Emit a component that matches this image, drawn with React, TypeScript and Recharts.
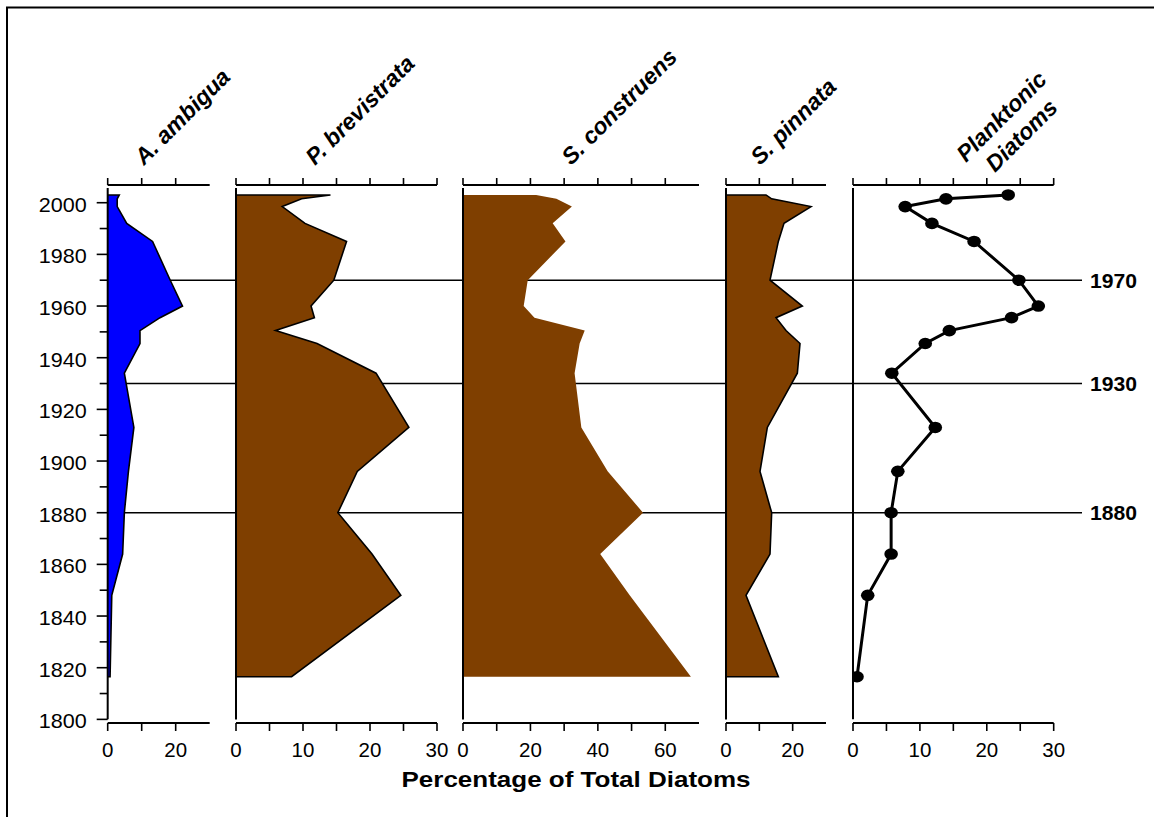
import React from 'react';
import { ComposedChart, Area, Line, XAxis, YAxis, ReferenceLine } from 'recharts';

// ---------- data ----------
const sampleYears = [2003, 2001.5, 1998.5, 1992, 1985, 1970, 1960, 1955.5, 1950.5, 1945.5, 1934, 1913, 1896, 1880, 1864, 1848, 1816.5];
const aAmbigua = [3.4, 2.8, 2.8, 5.6, 13.2, 18.4, 22.0, 15.4, 9.5, 9.5, 4.9, 7.7, 6.1, 4.9, 4.4, 1.2, 0.7];
const pBrevistrata = [14.1, 9.8, 6.9, 10.3, 16.5, 14.6, 11.2, 11.7, 5.9, 12.1, 20.9, 25.8, 18.1, 15.2, 20.3, 24.6, 8.3];
const sConstruens = [21.7, 27.7, 32.3, 26.6, 30.4, 19.2, 18.0, 21.2, 36.1, 34.6, 33.1, 35.1, 42.9, 53.4, 40.7, 49.5, 67.6];
const sPinnata = [12.0, 13.7, 25.5, 17.4, 15.7, 13.2, 22.9, 15.0, 18.0, 22.2, 21.4, 12.4, 10.2, 13.7, 13.2, 6.0, 15.7];
const planktonic = [23.2, 13.9, 7.8, 11.8, 18.1, 24.8, 27.7, 23.7, 14.4, 10.8, 5.8, 12.3, 6.7, 5.7, 5.7, 2.2, 0.6];

const panelTitles = ['A. ambigua', 'P. brevistrata', 'S. construens', 'S. pinnata', ['Planktonic', 'Diatoms']];
const axisTitle = 'Percentage of Total Diatoms';

const yearTicks = [1800, 1810, 1820, 1830, 1840, 1850, 1860, 1870, 1880, 1890, 1900, 1910, 1920, 1930, 1940, 1950, 1960, 1970, 1980, 1990, 2000];
const yearLabels = [1800, 1820, 1840, 1860, 1880, 1900, 1920, 1940, 1960, 1980, 2000];
const markerYears = [1970, 1930, 1880];

const ticksA = [0, 10, 20];
const labelsA = [0, 20];
const ticksP = [0, 5, 10, 15, 20, 25, 30];
const labelsP = [0, 10, 20, 30];
const ticksS = [0, 10, 20, 30, 40, 50, 60];
const labelsS = [0, 20, 40, 60];
const ticksPin = [0, 10, 20];
const labelsPin = [0, 20];
const ticksPl = [0, 5, 10, 15, 20, 25, 30];
const labelsPl = [0, 10, 20, 30];

// ---------- styling / layout ----------
const FONT = '"Liberation Sans", Arial, Helvetica, sans-serif';
const Y_DOMAIN: [number, number] = [1798.6, 2006.85];
const AXIS_SPAN: [number, number] = [1800, 2005.7];
const BLUE = '#0000FF';
const BROWN = '#7F3F00';
const CHART_TOP = 165;
const CHART_H = 608;
const TOP_AXIS_H = 20;
const BOTTOM_AXIS_H = 50;

function buildTable(values: number[], closed: boolean) {
  const rows = sampleYears.map((year, i) => ({ year, value: values[i] }));
  if (!closed) return rows;
  return [
    { year: sampleYears[0], value: 0 },
    ...rows,
    { year: sampleYears[sampleYears.length - 1], value: 0 },
  ];
}

const YTick = (props: any) => {
  const { x, y, payload } = props;
  const major = yearLabels.includes(payload.value);
  return (
    <g>
      <line x1={x - (major ? 11 : 8)} x2={x} y1={y} y2={y} stroke="#000" strokeWidth={1.6} />
      {major && (
        <text x={x - 21} y={y} dy="0.45em" textAnchor="end" fontSize={20} fontFamily={FONT} fill="#000"
          textLength={48} lengthAdjust="spacingAndGlyphs">
          {payload.value}
        </text>
      )}
    </g>
  );
};

const makeBottomTick = (labels: number[]) => (props: any) => {
  const { x, y, payload } = props;
  if (!labels.includes(payload.value)) return <g />;
  return (
    <text x={x} y={y} dy="0.71em" textAnchor="middle" fontSize={20.5} fontFamily={FONT} fill="#000">
      {payload.value}
    </text>
  );
};

const EmptyTick = () => <g />;

const Dot = (props: any) => {
  const { cx, cy, index } = props;
  if (cx == null || cy == null) return <g key={`d-${index}`} />;
  return <ellipse key={`d-${index}`} cx={cx} cy={cy} rx={6.8} ry={5.8} fill="#000" />;
};

const MarkerLabel = (props: any) => {
  const { viewBox, text } = props;
  if (!viewBox) return null;
  const x = viewBox.x + viewBox.width + 8;
  const y = viewBox.y + (viewBox.height || 0) / 2;
  return (
    <text x={x} y={y} dy="0.36em" textAnchor="start" fontSize={20.5} fontWeight="bold" fontFamily={FONT} fill="#000"
      textLength={47} lengthAdjust="spacingAndGlyphs">
      {text}
    </text>
  );
};

type PanelProps = {
  left: number;
  plotWidth: number;
  domain: [number, number];
  ticks: number[];
  labels: number[];
  values: number[];
  kind: 'area' | 'line';
  fill?: string;
  stroke?: string;
  showYAxis?: boolean;
};

function Panel({ left, plotWidth, domain, ticks, labels, values, kind, fill, stroke, showYAxis }: PanelProps) {
  const mL = showYAxis ? 0 : 20;
  const yW = showYAxis ? left : 0;
  const mR = 20;
  const chartLeft = showYAxis ? 0 : left - mL;
  const width = mL + yW + plotWidth + mR;
  const data = buildTable(values, kind === 'area' && !!stroke);
  return (
    <div style={{ position: 'absolute', left: chartLeft, top: CHART_TOP }}>
      <ComposedChart
        layout="vertical"
        width={width}
        height={CHART_H}
        data={data}
        margin={{ top: 0, right: mR, bottom: 0, left: mL }}
      >
        <YAxis
          type="number"
          dataKey="year"
          domain={Y_DOMAIN}
          allowDataOverflow
          reversed
          ticks={yearTicks}
          interval={0}
          hide={!showYAxis}
          width={yW || 1}
          axisLine={false}
          tickLine={false}
          tickSize={0}
          tickMargin={0}
          tick={YTick}
        />
        <XAxis
          xAxisId="top"
          orientation="top"
          type="number"
          domain={domain}
          ticks={ticks}
          interval={0}
          allowDataOverflow
          height={TOP_AXIS_H}
          axisLine={{ stroke: '#000', strokeWidth: 2 }}
          tickLine={{ stroke: '#000', strokeWidth: 1.6 }}
          tickSize={7}
          tick={EmptyTick}
        />
        <XAxis
          xAxisId="bottom"
          orientation="bottom"
          type="number"
          domain={domain}
          ticks={ticks}
          interval={0}
          allowDataOverflow
          height={BOTTOM_AXIS_H}
          axisLine={{ stroke: '#000', strokeWidth: 2 }}
          tickLine={{ stroke: '#000', strokeWidth: 1.6 }}
          tickSize={8}
          tickMargin={11}
          tick={makeBottomTick(labels)}
        />
        <ReferenceLine
          xAxisId="bottom"
          segment={[{ x: 0, y: AXIS_SPAN[0] }, { x: 0, y: AXIS_SPAN[1] }]}
          stroke="#000"
          strokeWidth={2}
          ifOverflow="visible"
        />
        {kind === 'area' ? (
          <Area
            xAxisId="bottom"
            dataKey="value"
            type="linear"
            fill={fill}
            fillOpacity={1}
            stroke={stroke || 'none'}
            strokeWidth={1.6}
            isAnimationActive={false}
            dot={false}
            activeDot={false}
          />
        ) : (
          <Line
            xAxisId="bottom"
            dataKey="value"
            type="linear"
            stroke="#000"
            strokeWidth={3}
            dot={Dot}
            activeDot={false}
            isAnimationActive={false}
          />
        )}
      </ComposedChart>
    </div>
  );
}

function MarkerLines() {
  const left = 107.7;
  const plotWidth = 974;
  const mR = 80;
  return (
    <div style={{ position: 'absolute', left, top: CHART_TOP }}>
      <ComposedChart
        width={plotWidth + mR}
        height={CHART_H}
        data={buildTable(planktonic, false)}
        margin={{ top: TOP_AXIS_H, right: mR, bottom: BOTTOM_AXIS_H, left: 0 }}
      >
        <XAxis type="number" dataKey="value" domain={[0, 1]} allowDataOverflow hide />
        <YAxis type="number" domain={Y_DOMAIN} allowDataOverflow hide />
        {markerYears.map((yr) => (
          <ReferenceLine
            key={yr}
            y={yr}
            stroke="#000"
            strokeWidth={1.5}
            ifOverflow="visible"
            label={<MarkerLabel text={String(yr)} />}
          />
        ))}
      </ComposedChart>
    </div>
  );
}

function Titles() {
  const starts: [number, number][] = [
    [144, 166],
    [315, 166],
    [571, 166],
    [760, 166],
  ];
  const titleStyle = { fontSize: 23, fontWeight: 'bold' as const, fontStyle: 'italic' as const, fontFamily: FONT, fill: '#000' };
  const two = panelTitles[4] as string[];
  return (
    <svg width={1154} height={817} style={{ position: 'absolute', left: 0, top: 0, pointerEvents: 'none' }}>
      <rect x={7} y={7.5} width={1400} height={1200} fill="none" stroke="#000" strokeWidth={2} />
      {starts.map(([x, y], i) => (
        <text key={i} x={x} y={y} transform={`rotate(-45 ${x} ${y})`} {...titleStyle}>
          {panelTitles[i] as string}
        </text>
      ))}
      <text x={1007} y={122} textAnchor="middle" transform={`rotate(-45 1007 122)`} {...titleStyle}>
        {two[0]}
      </text>
      <text x={1027} y={141} textAnchor="middle" transform={`rotate(-45 1027 141)`} {...titleStyle}>
        {two[1]}
      </text>
      <text x={576} y={787} textAnchor="middle" fontSize={21.5} fontWeight="bold" fontFamily={FONT} fill="#000"
        textLength={349} lengthAdjust="spacingAndGlyphs">
        {axisTitle}
      </text>
    </svg>
  );
}

export default function App() {
  return (
    <div style={{ position: 'absolute', left: 0, top: 0, width: 1154, height: 817, background: '#fff', fontFamily: FONT }}>
      <MarkerLines />
      <Panel left={107.7} plotWidth={102} domain={[0, 30]} ticks={ticksA} labels={labelsA} values={aAmbigua} kind="area" fill={BLUE} stroke="#000" showYAxis />
      <Panel left={235.7} plotWidth={201} domain={[0, 30]} ticks={ticksP} labels={labelsP} values={pBrevistrata} kind="area" fill={BROWN} stroke="#000" />
      <Panel left={462.7} plotWidth={236} domain={[0, 70]} ticks={ticksS} labels={labelsS} values={sConstruens} kind="area" fill={BROWN} />
      <Panel left={725.7} plotWidth={100} domain={[0, 30]} ticks={ticksPin} labels={labelsPin} values={sPinnata} kind="area" fill={BROWN} stroke="#000" />
      <Panel left={853.3} plotWidth={200.7} domain={[0, 30]} ticks={ticksPl} labels={labelsPl} values={planktonic} kind="line" />
      <Titles />
    </div>
  );
}
